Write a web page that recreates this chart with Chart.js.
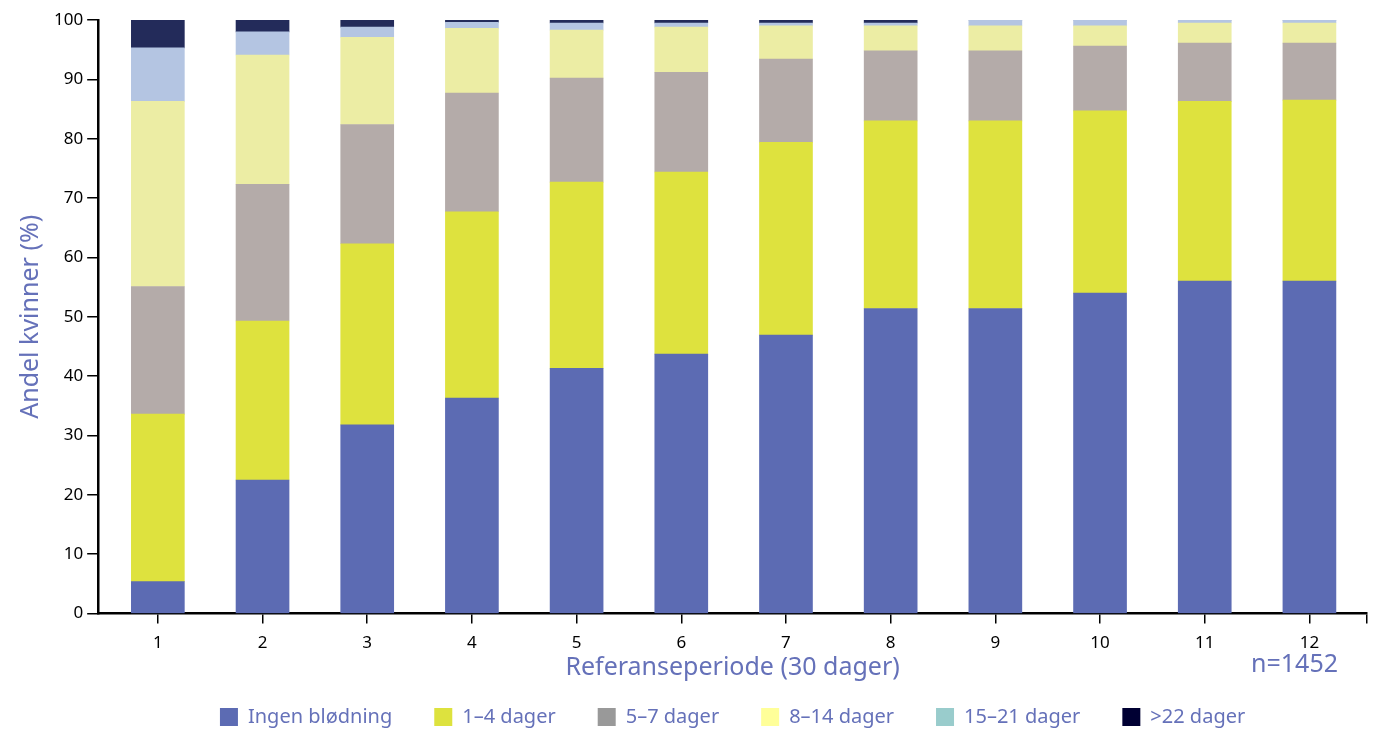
<!DOCTYPE html>
<html>
<head>
<meta charset="utf-8">
<script src="https://cdn.jsdelivr.net/npm/chart.js@4.4.1/dist/chart.umd.min.js"></script>
<style>
  html, body { margin: 0; padding: 0; background: #fff; }
  #wrap { width: 1376px; height: 729px; }
</style>
</head>
<body>
<div id="wrap"><canvas id="chart" width="1376" height="729"></canvas></div>
<script>
// ----- data -----
const periods = [1, 2, 3, 4, 5, 6, 7, 8, 9, 10, 11, 12];
const seriesNames = ['Ingen blødning', '1\u20134 dager', '5\u20137 dager', '8\u201314 dager', '15\u201321 dager', '>22 dager'];

const ingenBlodning = [5.4, 22.5, 31.8, 36.3, 41.3, 43.7, 46.9, 51.4, 51.4, 54.0, 56.0, 56.0];
const dager1til4 = [28.2, 26.8, 30.5, 31.4, 31.4, 30.7, 32.5, 31.6, 31.6, 30.7, 30.3, 30.5];
const dager5til7 = [21.5, 23.0, 20.1, 20.0, 17.5, 16.8, 14.0, 11.8, 11.8, 10.9, 9.8, 9.6];
const dager8til14 = [31.2, 21.8, 14.7, 10.9, 8.1, 7.6, 5.6, 4.2, 4.2, 3.4, 3.4, 3.4];
const dager15til21 = [9.0, 3.9, 1.7, 1.0, 1.2, 0.7, 0.5, 0.5, 1.0, 1.0, 0.5, 0.5];
const dagerOver22 = [4.7, 2.0, 1.2, 0.4, 0.5, 0.5, 0.5, 0.5, 0, 0, 0, 0];

const yTicks = [0, 10, 20, 30, 40, 50, 60, 70, 80, 90, 100];

// bar fills and the (slightly different) legend swatches of the original
const barColors = ['#5c6bb3', '#dee23e', '#b4aba9', '#eceda4', '#b4c5e2', '#232b5a'];
const legendColors = ['#5c6bb3', '#dde23e', '#999999', '#ffff99', '#99cccc', '#000033'];

const textBlue = '#6571b9';
const fontFamily = '"Noto Sans", "Open Sans", sans-serif';

const allSeries = [ingenBlodning, dager1til4, dager5til7, dager8til14, dager15til21, dagerOver22];

const datasets = allSeries.map((values, i) => ({
    label: seriesNames[i],
    data: values.map((v, j) => ({ x: periods[j], y: v })),
    backgroundColor: barColors[i],
    borderWidth: 0,
    barThickness: 53
}));

// "n=1452" note beside the x-axis title
const noteLabel = {
    id: 'noteLabel',
    afterDraw(chart) {
        const ctx = chart.ctx;
        ctx.save();
        ctx.font = `25px ${fontFamily}`;
        ctx.fillStyle = textBlue;
        ctx.textAlign = 'right';
        ctx.textBaseline = 'middle';
        ctx.fillText('n=1452', 1338, 665);
        ctx.restore();
    }
};

new Chart(document.getElementById('chart'), {
    type: 'bar',
    data: { datasets },
    options: {
        responsive: false,
        animation: false,
        layout: { padding: { top: 20, right: 8, left: 16, bottom: -8 } },
        scales: {
            x: {
                type: 'linear',
                stacked: true,
                offset: false,
                min: 0.43,
                max: 12.55,
                afterBuildTicks: (scale) => {
                    scale.ticks = periods.map(v => ({ value: v })).concat([{ value: 12.55 }]);
                },
                ticks: {
                    autoSkip: false,
                    maxRotation: 0,
                    color: '#000',
                    font: { family: fontFamily, size: 17 },
                    padding: 9,
                    callback: (v) => Number.isInteger(v) ? String(v) : ''
                },
                grid: {
                    offset: false,
                    drawOnChartArea: false,
                    drawTicks: true,
                    tickLength: 10,
                    color: '#000',
                    lineWidth: 1.5
                },
                border: { display: true, color: '#000', width: 2.5 },
                title: {
                    display: true,
                    text: 'Referanseperiode (30 dager)',
                    color: textBlue,
                    font: { family: fontFamily, size: 25 },
                    padding: { top: -9, bottom: -18 }
                }
            },
            y: {
                stacked: true,
                min: 0,
                max: 100,
                afterBuildTicks: (scale) => {
                    scale.ticks = yTicks.map(v => ({ value: v }));
                },
                ticks: {
                    color: '#000',
                    font: { family: fontFamily, size: 17 },
                    padding: 4
                },
                grid: {
                    drawOnChartArea: false,
                    drawTicks: true,
                    tickLength: 11,
                    color: '#000',
                    lineWidth: 1.5
                },
                border: { display: true, color: '#000', width: 2.5 },
                title: {
                    display: true,
                    text: 'Andel kvinner (%)',
                    color: textBlue,
                    font: { family: fontFamily, size: 25 },
                    padding: { top: 0, bottom: 4 }
                }
            }
        },
        plugins: {
            legend: {
                position: 'bottom',
                fullSize: false,
                labels: {
                    boxWidth: 18,
                    boxHeight: 18,
                    padding: 42,
                    color: textBlue,
                    font: { family: fontFamily, size: 20 },
                    generateLabels: (chart) => chart.data.datasets.map((ds, i) => ({
                        text: ds.label,
                        fillStyle: legendColors[i],
                        strokeStyle: legendColors[i],
                        lineWidth: 0,
                        fontColor: textBlue,
                        datasetIndex: i,
                        hidden: false
                    }))
                }
            },
            tooltip: { enabled: false }
        }
    },
    plugins: [noteLabel]
});
</script>
</body>
</html>
